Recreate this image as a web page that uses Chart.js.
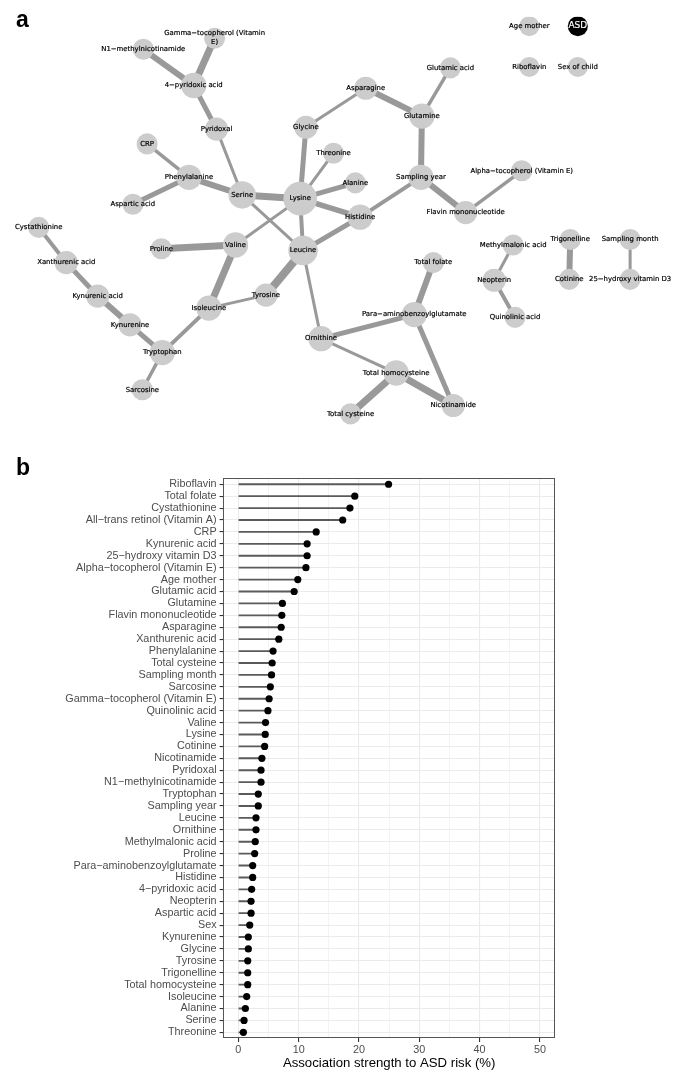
<!DOCTYPE html>
<html><head><meta charset="utf-8">
<script src="https://cdn.jsdelivr.net/npm/chart.js@4"></script>
<style>
html,body{margin:0;padding:0;background:#fff;}
#wrap{position:relative;width:685px;height:1072px;overflow:hidden;background:#fff;}
#net{position:absolute;left:0;top:0;}
#lol{position:absolute;left:0;top:465px;}
.pl{position:absolute;font:bold 23px "Liberation Sans",Arial,sans-serif;color:#000;line-height:23px;}
</style></head><body>
<div id="wrap">
<canvas id="net" width="685" height="465"></canvas>
<canvas id="lol" width="685" height="607"></canvas>
<div class="pl" style="left:16px;top:8px">a</div>
<div class="pl" style="left:16px;top:456px">b</div>
</div>
<script>
// ---------- panel a: network ----------
const nodeNames = [
  'Gamma−tocopherol (Vitamin\nE)','N1−methylnicotinamide','4−pyridoxic acid','Pyridoxal','CRP','Phenylalanine',
  'Aspartic acid','Serine','Lysine','Glycine','Threonine','Alanine','Histidine','Leucine','Valine','Proline',
  'Isoleucine','Tyrosine','Tryptophan','Kynurenine','Kynurenic acid','Xanthurenic acid','Cystathionine','Sarcosine',
  'Ornithine','Para−aminobenzoylglutamate','Total folate','Total homocysteine','Nicotinamide','Total cysteine',
  'Asparagine','Glutamic acid','Glutamine','Sampling year','Flavin mononucleotide','Alpha−tocopherol (Vitamin E)',
  'Methylmalonic acid','Neopterin','Quinolinic acid','Trigonelline','Cotinine','Sampling month','25−hydroxy vitamin D3',
  'Age mother','ASD','Riboflavin','Sex of child'
];
const layoutX = [208,133,186,210,137,181,122,237,298,304,333,356,361,301,230,152,
  202,262,153,119,85,52,23,132,320,418,438,399,459,351,
  367,456,426,425,472,531,522,502,524,582,581,645,645,539,590,539,590];
const layoutY = [23,35,74,121,137,173,202,192,196,119,147,179,216,252,246,250,
  314,300,362,332,301,265,227,402,347,321,265,384,419,428,
  77,55,107,173,211,166,246,284,324,240,283,240,283,10,10,54,54];

const edgeFrom = ['Gamma−tocopherol (Vitamin\nE)','N1−methylnicotinamide','4−pyridoxic acid','Pyridoxal','CRP','Phenylalanine','Phenylalanine',
  'Serine','Serine','Lysine','Lysine','Lysine','Lysine','Lysine','Lysine','Glycine','Asparagine','Glutamic acid','Glutamine',
  'Sampling year','Sampling year','Flavin mononucleotide','Leucine','Leucine','Leucine','Valine','Valine','Isoleucine','Isoleucine',
  'Tryptophan','Tryptophan','Kynurenine','Kynurenic acid','Xanthurenic acid','Ornithine','Ornithine','Para−aminobenzoylglutamate',
  'Para−aminobenzoylglutamate','Total homocysteine','Total homocysteine','Methylmalonic acid','Neopterin','Trigonelline','Sampling month'];
const edgeTo = ['4−pyridoxic acid','4−pyridoxic acid','Pyridoxal','Serine','Phenylalanine','Aspartic acid','Serine',
  'Lysine','Leucine','Glycine','Threonine','Alanine','Histidine','Leucine','Valine','Asparagine','Glutamine','Glutamine','Sampling year',
  'Histidine','Flavin mononucleotide','Alpha−tocopherol (Vitamin E)','Histidine','Tyrosine','Ornithine','Proline','Isoleucine','Tyrosine','Tryptophan',
  'Kynurenine','Sarcosine','Kynurenic acid','Xanthurenic acid','Cystathionine','Para−aminobenzoylglutamate','Total homocysteine','Total folate',
  'Nicotinamide','Nicotinamide','Total cysteine','Neopterin','Quinolinic acid','Cotinine','25−hydroxy vitamin D3'];
const edgeWeight = [7,6,5,3,3.5,5,6,
  7,3,5,3,5,5.5,4,3,3,6,3.5,6,
  4,6,3.5,5,8,3,7,7,3,4,
  5,3.5,6,5,4,5,3,6,
  5,7,7,3,4,6,3];

const idx = n => nodeNames.indexOf(n);
const degree = nodeNames.map(() => 0);
edgeFrom.forEach((f, k) => { degree[idx(f)]++; degree[idx(edgeTo[k])]++; });
const nodeRadius = degree.map(d => d === 0 ? 10 : 9.5 + 1.05 * d);

const edgeSets = edgeFrom.map((f, k) => {
  const a = idx(f), b = idx(edgeTo[k]);
  return {
    type: 'line',
    data: [{x: layoutX[a], y: layoutY[a]}, {x: layoutX[b], y: layoutY[b]}],
    borderColor: '#999999', borderWidth: edgeWeight[k], pointRadius: 0, showLine: true,
    fill: false, order: 1
  };
});

const nodeLabelPlugin = {
  id: 'nodeLabels',
  afterDatasetsDraw(chart) {
    const ctx = chart.ctx, xs = chart.scales.x, ys = chart.scales.y;
    ctx.save();
    ctx.textAlign = 'center';
    ctx.textBaseline = 'middle';
    ctx.lineJoin = 'round';
    nodeNames.forEach((n, i) => {
      const px = xs.getPixelForValue(layoutX[i]), py = ys.getPixelForValue(layoutY[i]);
      let col;
      if (n === 'ASD') {
        ctx.font = '9px "DejaVu Sans", sans-serif';
        col = '#fff';
      } else {
        ctx.font = '6.9px "DejaVu Sans", sans-serif';
        col = '#000';
      }
      ctx.fillStyle = col;
      ctx.strokeStyle = col;
      ctx.lineWidth = 0.2;
      const lines = n.split('\n');
      const lh = 9;
      lines.forEach((t, j) => {
        const yy = py + (j - (lines.length - 1) / 2) * lh;
        ctx.fillText(t, px, yy);
        ctx.strokeText(t, px, yy);
      });
    });
    ctx.restore();
  }
};

new Chart(document.getElementById('net'), {
  type: 'scatter',
  data: {
    datasets: [{
      type: 'scatter',
      data: nodeNames.map((n, i) => ({x: layoutX[i], y: layoutY[i]})),
      pointRadius: nodeRadius,
      pointHoverRadius: nodeRadius,
      pointBackgroundColor: nodeNames.map(n => n === 'ASD' ? '#000' : '#cccccc'),
      pointBorderWidth: 0,
      order: 0
    }].concat(edgeSets)
  },
  options: {
    responsive: false, animation: false, events: [],
    layout: {padding: 0},
    scales: {
      x: {type: 'linear', min: 0, max: 685, display: false},
      y: {type: 'linear', min: 0, max: 465, reverse: true, display: false}
    },
    plugins: {legend: {display: false}, tooltip: {enabled: false}}
  },
  plugins: [nodeLabelPlugin]
});

// ---------- panel b: lollipop ----------
const categories = [
  'Riboflavin','Total folate','Cystathionine','All−trans retinol (Vitamin A)','CRP','Kynurenic acid','25−hydroxy vitamin D3',
  'Alpha−tocopherol (Vitamin E)','Age mother','Glutamic acid','Glutamine','Flavin mononucleotide','Asparagine','Xanthurenic acid',
  'Phenylalanine','Total cysteine','Sampling month','Sarcosine','Gamma−tocopherol (Vitamin E)','Quinolinic acid','Valine','Lysine',
  'Cotinine','Nicotinamide','Pyridoxal','N1−methylnicotinamide','Tryptophan','Sampling year','Leucine','Ornithine',
  'Methylmalonic acid','Proline','Para−aminobenzoylglutamate','Histidine','4−pyridoxic acid','Neopterin','Aspartic acid','Sex',
  'Kynurenine','Glycine','Tyrosine','Trigonelline','Total homocysteine','Isoleucine','Alanine','Serine','Threonine'
];
const associationValues = [
  24.9, 19.3, 18.5, 17.3, 12.9, 11.4, 11.4,
  11.2, 9.85, 9.25, 7.3, 7.2, 7.1, 6.7,
  5.75, 5.6, 5.5, 5.3, 5.1, 4.9, 4.5, 4.45,
  4.35, 3.9, 3.75, 3.75, 3.3, 3.3, 2.92, 2.92,
  2.8, 2.7, 2.37, 2.37, 2.2, 2.1, 2.1, 1.88,
  1.65, 1.65, 1.55, 1.55, 1.55, 1.38, 1.16, 0.94, 0.83
];
const xGridValues = [0, 5, 10, 15, 20, 25, 30, 35, 40, 45, 50];
const xLabelValues = [0, 10, 20, 30, 40, 50];
const xAxisMin = -2.5, xAxisMax = 52.5;
const xTitle = 'Association strength to ASD risk (%)';

const panelBorder = {
  id: 'panelBorder',
  afterDraw(chart) {
    const a = chart.chartArea, ctx = chart.ctx;
    ctx.save();
    ctx.strokeStyle = '#555';
    ctx.lineWidth = 1;
    ctx.strokeRect(Math.round(a.left) + 0.5, Math.round(a.top) + 0.5, Math.round(a.right - a.left) - 1, Math.round(a.bottom - a.top) - 1);
    ctx.restore();
  }
};

const tickFont = {family: '"Liberation Sans", Arial, sans-serif', size: 10.8};
const isLabelled = c => c.tick && xLabelValues.includes(c.tick.value);

new Chart(document.getElementById('lol'), {
  data: {
    labels: categories,
    datasets: [
      {type: 'line', indexAxis: 'y', data: associationValues, showLine: false, pointRadius: 3.6,
       pointBackgroundColor: '#000', pointBorderWidth: 0, order: 0},
      {type: 'bar', indexAxis: 'y', data: associationValues, backgroundColor: '#5a5a5a', barThickness: 1.2, order: 1}
    ]
  },
  options: {
    indexAxis: 'y', responsive: false, animation: false, events: [],
    layout: {padding: {left: 0, right: 130, top: 13.3, bottom: 0}},
    plugins: {legend: {display: false}, tooltip: {enabled: false}},
    scales: {
      x: {
        type: 'linear', min: xAxisMin, max: xAxisMax,
        afterBuildTicks: s => { s.ticks = xGridValues.map(v => ({value: v})); },
        afterFit: s => { s.height = 33.7; },
        border: {display: false},
        grid: {
          color: '#ebebeb',
          lineWidth: c => isLabelled(c) ? 1.1 : 0.6,
          tickColor: c => isLabelled(c) ? '#333' : 'rgba(0,0,0,0)',
          tickLength: 3.7, drawTicks: true
        },
        ticks: {
          autoSkip: false, maxRotation: 0, padding: 1.5,
          color: '#4d4d4d', font: tickFont,
          callback: v => xLabelValues.includes(v) ? String(v) : ''
        },
        title: {display: true, text: xTitle, color: '#000',
          font: {family: '"Liberation Sans", Arial, sans-serif', size: 13.2}, padding: {top: 0, bottom: 1}}
      },
      y: {
        type: 'category', offset: true,
        afterFit: s => { s.width = 223.3; },
        border: {display: false},
        grid: {color: '#ebebeb', lineWidth: 1.1, tickColor: '#333', tickLength: 3.7, offset: false},
        ticks: {color: '#4d4d4d', font: tickFont, padding: 3, autoSkip: false}
      }
    }
  },
  plugins: [panelBorder]
});
</script>
</body></html>
